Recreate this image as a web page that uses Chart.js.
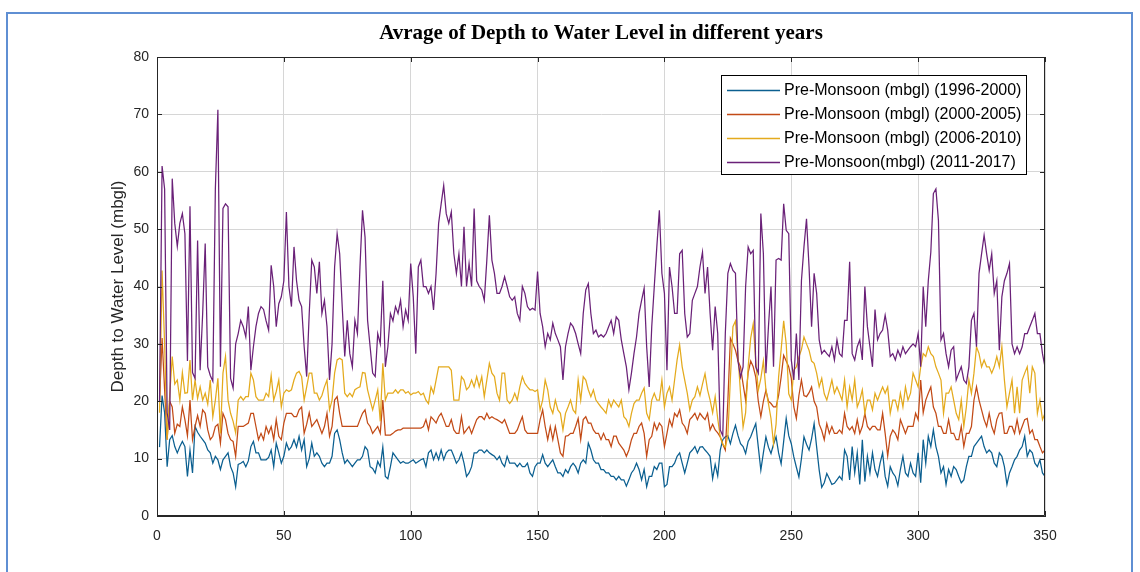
<!DOCTYPE html>
<html>
<head>
<meta charset="utf-8">
<title>Avrage of Depth to Water Level in different years</title>
<script src="https://cdn.jsdelivr.net/npm/chart.js@4.4.1/dist/chart.umd.min.js"></script>
<style>
    html, body { margin: 0; padding: 0; background: #fff; overflow: hidden; }
    #frame { position: absolute; left: 6px; top: 12px; width: 1127px; height: 600px; border: 2px solid #5f8fd3; box-sizing: border-box; }
    #wrap { position: absolute; left: 0; top: 0; width: 1140px; height: 572px; }
</style>
</head>
<body>
<div id="frame"></div>
<div id="wrap"><canvas id="depth-chart" width="1140" height="572"></canvas></div>
<script>
// Axis ticks
const xTicks = [0, 50, 100, 150, 200, 250, 300, 350];
const yTicks = [0, 10, 20, 30, 40, 50, 60, 70, 80];

// Legend labels
const seriesLabels = [
    'Pre-Monsoon (mbgl) (1996-2000)',
    'Pre-Monsoon (mbgl) (2000-2005)',
    'Pre-Monsoon (mbgl) (2006-2010)',
    'Pre-Monsoon(mbgl) (2011-2017)'
];

// Depth to water level, one value per well (1..350)
const pre1996 = [
    12, 21, 18, 8.6, 13.3, 14, 12.1, 11, 12.1, 13,
    12.1, 6.9, 11.5, 7.5, 15.6, 14.6, 13.9, 13.3, 12.7, 11.5,
    11, 9.2, 10.4, 9.8, 8.1, 9.8, 10.4, 11, 8.6, 7.5,
    5.1, 9, 9.2, 9.5, 8.6, 9.6, 12.1, 13, 11, 11,
    9.8, 9.8, 9.8, 10.2, 11.5, 8.6, 12.7, 11, 9.2, 10.4,
    12.7, 11.5, 12.1, 13.3, 12, 13.9, 11.5, 13.3, 8.6, 10,
    12.7, 10.4, 11, 10.4, 9.2, 8.6, 9.2, 9.2, 10.4, 14.4,
    15, 13.3, 11, 9.2, 9.8, 9.2, 8.6, 9.2, 9.8, 9.8,
    10.4, 12.1, 11.5, 8.6, 8.3, 7.5, 9.5, 8.6, 12, 6.9,
    6.5, 8.6, 11, 10.4, 9.8, 9.2, 9.5, 9.2, 9.2, 9.5,
    9.8, 9.2, 9.5, 9.8, 10, 8.6, 11, 11.5, 9.8, 11,
    9.8, 11.5, 9.8, 11, 11.5, 11.5, 10.4, 9.2, 9.8, 11,
    9.2, 6.9, 7.5, 8.6, 11, 11, 11.5, 11.5, 11, 11.5,
    11, 10.7, 10.4, 9.8, 10.4, 9.2, 8.6, 10.4, 9.2, 9.2,
    9.2, 8.6, 9.2, 8.6, 8.6, 9.2, 7.5, 6.9, 8.6, 9.2,
    9.2, 10.7, 9.2, 8.6, 9.2, 9.8, 8.6, 7.5, 7.5, 6.9,
    8.1, 7.5, 8.6, 9.2, 8.6, 7.5, 9.2, 9.8, 9.2, 12.7,
    11.5, 9.8, 9.2, 9.2, 8.1, 8.1, 7.5, 7.5, 6.9, 6.9,
    6.3, 6.9, 6.3, 6.3, 5.2, 6.3, 7.5, 8.1, 9.2, 8.1,
    6.3, 8.1, 5.1, 6.9, 6.9, 8.6, 8.1, 9.2, 9.2, 5.1,
    5.5, 8.6, 8.6, 9.2, 10.4, 11, 9.2, 7.5, 9.2, 11,
    11.5, 12.1, 11, 12, 12.1, 11.5, 11, 10.4, 6.5, 9,
    7, 11.5, 13.3, 13.8, 14, 12.6, 14.4, 15.8, 14, 12.6,
    12.1, 10.9, 13, 13.8, 15, 16.1, 12, 8, 11, 13.8,
    12, 10.9, 12.5, 13.8, 11, 9.1, 13, 17, 14, 12.6,
    10.3, 8.5, 6.8, 10, 13.8, 12.5, 11.5, 13.5, 16.1, 12,
    8, 5, 5.8, 7.4, 6.5, 5.5, 5.7, 6.3, 6.9, 6.3,
    11.5, 10.4, 6.3, 12.1, 7.5, 11, 5.5, 13.3, 6, 10.4,
    7.5, 11, 8.1, 6.9, 9.2, 11, 6.9, 5.2, 8.6, 7.5,
    6.9, 5.3, 8.1, 10.4, 7.5, 6.9, 9.2, 7.5, 6.9, 11,
    5.8, 13.3, 9.2, 13.9, 12.1, 15, 12.1, 10.4, 7.5, 8.6,
    5.5, 8.1, 6.9, 8.6, 8.1, 6.9, 5.8, 6.3, 8.6, 10.4,
    10.4, 12.1, 12.7, 13.3, 13.9, 12.1, 11, 11.5, 11, 9.2,
    8.6, 11, 10.4, 8.6, 5.5, 7.5, 8.6, 9.8, 10.4, 11.5,
    12.1, 13.9, 10.4, 11.5, 11, 9.2, 8.6, 9.8, 7.5, 6.9
];

const pre2000 = [
    20, 31, 22, 13.3, 20, 19, 14.4, 16, 15.6, 19,
    16.8, 14, 20.2, 13.3, 15.6, 17.5, 15.6, 18.5, 17.9, 15,
    13.3, 13.9, 15.6, 16, 12.7, 17.9, 16.8, 14.4, 13.3, 13,
    10.4, 15.6, 15.6, 15.6, 15.9, 16.2, 17.9, 17.9, 15.6, 13.3,
    14.4, 13.3, 15.6, 14.4, 15.6, 13.3, 16.8, 13.9, 13.3, 16.2,
    17.9, 17.9, 17.9, 17.3, 17.3, 18.5, 19, 14.4, 16, 18,
    15.6, 16.2, 16.8, 15.6, 14.4, 15.6, 17.9, 13.9, 15.6, 20.2,
    20.8, 17.9, 15.6, 15.6, 15.6, 15.6, 15.6, 15.6, 15.6, 16.8,
    17.9, 18.5, 16.2, 15.6, 14.4, 15, 15.6, 14.4, 20.2, 14.1,
    14.1, 14.1, 14.4, 14.8, 15, 15, 15.3, 15.3, 15.3, 15.3,
    15.3, 15.3, 15.3, 15.3, 15.6, 16.8, 15, 17.3, 16.8, 16.2,
    17.3, 17.9, 16.8, 15.6, 15.6, 16.8, 15, 14.4, 14.4, 17.3,
    14.4, 15, 15.6, 14.4, 15.6, 16.8, 17.3, 17.3, 16.8, 17.9,
    17, 17.3, 17, 16.8, 16.5, 16.2, 16.8, 15.6, 14.4, 14.4,
    14.4, 15, 16.2, 17.3, 15, 14.4, 14.4, 14.4, 14.4, 14.4,
    16.8, 18.5, 15.6, 13.3, 15.6, 13.3, 15.6, 13.3, 11, 10.4,
    13.9, 14, 14.4, 14.4, 15.6, 17, 13.3, 16.8, 17.3, 16.2,
    16.2, 15, 14.4, 14.4, 13.3, 14.4, 13.3, 13.3, 12.1, 13.9,
    13.9, 12.7, 12.1, 11.5, 10.4, 11.5, 13.3, 14.4, 14.4, 15.6,
    16.2, 14.4, 10.4, 13.3, 13.9, 16.2, 15, 16.2, 15.6, 12.1,
    14.4, 16.8, 15.6, 17.9, 17.3, 18.5, 16.2, 15.6, 14.4, 16.8,
    17.3, 17.9, 16.8, 17.9, 17.3, 16.8, 17.9, 15, 16, 15,
    14.5, 13.8, 12.5, 11.5, 20, 31, 30, 28.9, 27, 26,
    23, 20.2, 25, 27, 26, 24.2, 20, 17.3, 20, 21.9,
    20, 19.6, 19, 19, 21, 24.2, 28, 27, 26, 24,
    19, 17, 21, 23.7, 21, 20.8, 21.5, 22.5, 20, 19,
    16, 14.9, 13.3, 16.1, 14.4, 15.6, 14.4, 14.4, 15, 14.4,
    17.9, 15.6, 15, 15.6, 14.4, 16.8, 14.4, 15.6, 17.9, 15.6,
    15, 15.6, 15.6, 15, 15, 17.9, 14.4, 10.5, 13.9, 15,
    14.4, 13.3, 16.8, 15.6, 14.4, 15.6, 15.6, 15.6, 17.9, 16.8,
    23.7, 18, 20.2, 21.4, 22.5, 19, 17.9, 15.6, 15.6, 14.4,
    14.4, 16.8, 14.4, 14.4, 13.3, 13.3, 15.6, 12.1, 14.4, 14.4,
    15.6, 20.2, 22.5, 20.2, 18.5, 16.8, 15.6, 17.9, 15.6, 14.4,
    16.8, 17.9, 18, 14.4, 14.4, 15.6, 15.6, 14.4, 16.8, 14.4,
    15.6, 16.8, 17, 14.4, 15, 13.3, 13.3, 12.1, 11, 11.5
];

const pre2006 = [
    18, 42.8, 30, 13.3, 21, 27.8, 23, 23.7, 20.2, 25,
    21.4, 21.5, 27.2, 20.2, 23.7, 20.5, 22.5, 20.2, 21.4, 19.5,
    23.7, 17.3, 20.2, 24, 14.4, 24.9, 27.8, 20.2, 17.9, 16.5,
    14.5, 20.2, 20.8, 20.2, 20.8, 20.8, 24.9, 23.7, 20.8, 20.2,
    20.2, 20.2, 21.4, 20.8, 24.5, 20.2, 21.7, 23.7, 19, 21.4,
    22, 21.7, 22, 23.7, 24.9, 25.2, 24.3, 20.2, 22.5, 24.9,
    24.9, 21.4, 21.4, 20.2, 21, 22.5, 23.7, 18.5, 20.2, 24.9,
    27.2, 27.5, 27.2, 21.4, 20.8, 21.4, 20.8, 22, 22.3, 22.5,
    25, 24.9, 22, 20.2, 18.5, 20.2, 22, 16.5, 26.6, 20.2,
    21.4, 21.4, 21.4, 22, 21.4, 22, 22, 21.4, 21.7, 21.1,
    21.4, 21.4, 21.7, 21.1, 21.4, 20.2, 19.6, 22.5, 21.4, 23.7,
    26, 26, 26, 26, 26, 25.4, 20.2, 20.2, 20.2, 24.3,
    23.7, 22, 22.5, 23.7, 22.5, 24.3, 22.5, 24.3, 20.8, 23.7,
    26.6, 24.9, 24.3, 21.4, 20.2, 24.9, 24.9, 20.2, 19.6, 20.2,
    21.4, 20.2, 22.5, 24.3, 23.1, 22.5, 22, 22, 21.7, 22,
    18.5, 20.2, 23.7, 22, 19, 17.9, 20.2, 18.5, 17.9, 15,
    17.9, 19, 20.2, 18.5, 17.9, 23.7, 20.2, 24.3, 23.7, 22,
    20.8, 22, 20.2, 19.6, 19, 18.5, 17.9, 20.2, 19, 20.2,
    19.6, 19, 20.2, 17.3, 16.8, 15.6, 17.9, 19.6, 20.2, 20.2,
    21.4, 22.3, 17.9, 16.8, 20.2, 21.4, 20.2, 20.2, 23.7, 19,
    21.4, 22.5, 20.2, 23.7, 27.2, 29.8, 26, 23.7, 21.4, 18.5,
    20.2, 20.8, 22.5, 21, 23, 24.8, 22, 20.2, 18, 20.8,
    17, 13.8, 12.5, 12, 14, 24, 33, 34, 28, 21.3,
    15.5, 18, 26, 31, 33.5, 27, 21.9, 24, 27, 22,
    19.6, 17, 12.6, 16, 24.2, 29, 34, 30, 21.3, 20.2,
    25.4, 26, 27.7, 29, 31.2, 30, 28.9, 27, 26.6, 24.9,
    22.5, 24, 21.3, 20.2, 21.9, 23.7, 21.4, 22.5, 21.4, 20.2,
    23.7, 19, 22.5, 20.2, 23.7, 19, 20.2, 22, 17.9, 20.2,
    20.2, 18.5, 21.4, 20.2, 21.4, 22.5, 21.4, 22.5, 17.9, 20.2,
    20.2, 18.5, 21.4, 19, 22.5, 20.2, 21.4, 24.9, 23.7, 22.5,
    26, 28.3, 27.8, 29.5, 28.3, 27.8, 26, 24.9, 23.7, 17.9,
    21.4, 21.4, 22.5, 20.2, 17.9, 16.8, 20.2, 15.6, 19, 23.7,
    21.4, 24.9, 29.5, 28.3, 26, 27.2, 26, 26, 24.9, 26,
    27.8, 26, 29.5, 23.7, 19, 21.4, 23.7, 17.9, 22.5, 17.9,
    23.7, 24.9, 26, 21.4, 26, 24.9, 17.9, 20.2, 16.8, 17.9
];

const pre2011 = [
    20, 61, 57, 18, 15, 58.8, 51, 47, 51, 52.7,
    49.2, 27, 54, 25, 24, 48, 25.4, 35.3, 47.5, 26,
    24.5, 23.5, 57, 70.8, 26, 53.6, 54.4, 53.9, 24, 22.3,
    30, 31.8, 34.1, 33, 31.2, 36.5, 25.4, 29.5, 33, 35.3,
    36.5, 36, 34, 32.4, 43.7, 40, 33, 37, 38.2, 41,
    53, 40, 36.5, 46.9, 41, 37.6, 36.5, 29.5, 24.3, 35.3,
    44.6, 43.4, 38.8, 44.3, 35.3, 37.6, 33, 23.7, 30, 43.4,
    49.2, 45.7, 36.5, 27.8, 34.1, 28.3, 26, 34.1, 31.8, 43.4,
    53.3, 48.6, 34.1, 29.5, 24.9, 24.3, 31.8, 30, 41, 26,
    29.5, 35.3, 34, 36.5, 35.3, 37.6, 33, 35.9, 34.1, 44,
    38.2, 28.3, 43.4, 44.6, 40, 40, 38.8, 40, 35.9, 42.3,
    51, 54.4, 57.6, 52.7, 51, 53, 45.7, 42.3, 45.7, 40,
    50.4, 40, 44, 40, 53.6, 41, 40, 39.4, 37.6, 44.6,
    52.4, 44.6, 42.3, 38.8, 38.8, 40, 41.7, 40, 38.2, 37.6,
    38.2, 35.3, 34.1, 40, 38.8, 36.5, 35.9, 36.2, 35.9, 42.6,
    35.3, 33, 29.5, 31.8, 30.7, 33.6, 31.8, 30.7, 29.5, 23.7,
    29.5, 31.8, 33.6, 33, 31.8, 30, 28.3, 35.3, 39.4, 40.5,
    35.3, 31.8, 32.4, 31.2, 31.6, 31.2, 31.8, 33, 34.1, 31.8,
    34.7, 34.1, 30.7, 28.3, 26, 22, 24.9, 28.3, 31.2, 35.3,
    37.6, 39.7, 29.5, 22.5, 33, 40, 46.9, 53.3, 42.3, 38.8,
    25.4, 43.4, 40, 35.3, 35.3, 45.7, 46.3, 35.3, 31.2, 31.8,
    37.6, 38.8, 40, 43.4, 46, 38.8, 43.4, 35.3, 28.9, 36.5,
    31.8, 15, 14, 31.8, 42.3, 44, 42.8, 42.3, 27, 24.2,
    26, 40, 46.9, 45.7, 46.3, 26, 24.9, 52.7, 45.7, 24.9,
    33, 40, 26, 44.6, 44.9, 44.6, 54.4, 49.8, 49.2, 27.2,
    23.7, 31.8, 23.7, 41, 46.9, 51.8, 43.4, 33, 42.3, 38.8,
    30.7, 28.3, 28.9, 28.3, 27.8, 29.5, 27.2, 30.7, 28.3, 27.8,
    34.1, 34.1, 44.3, 28.3, 27.2, 29.5, 30.7, 27.2, 40, 33,
    29.5, 26, 36, 30.7, 31.8, 32.4, 35, 32.4, 27.8, 28.3,
    27.2, 28.9, 27.8, 29.5, 28.3, 28.9, 29.5, 30, 29.5, 31.8,
    26, 40, 33, 41, 46, 56.2, 57, 51.5, 30.7, 31.8,
    28.3, 26, 28.9, 29.5, 23.7, 24.9, 26, 23.7, 23.1, 26,
    34.1, 35.3, 29.5, 42.3, 45.7, 48.9, 45.7, 42.8, 45.7, 38.8,
    41, 28.9, 38.2, 41, 42.3, 44, 30, 28.3, 29.5, 28.3,
    29.5, 31.8, 31.8, 33, 34.1, 35.3, 31.8, 31.8, 28.3, 26
];

// Line colours (MATLAB default order)
const seriesColors = ['#0b5f90', '#c24a16', '#e4aa1d', '#6a2178'];

const axisColor = '#262626';
const sansFont = "'Liberation Sans', Arial, sans-serif";

function toPoints(values) {
    return values.map((v, i) => ({ x: i + 1, y: v }));
}

// Draws the MATLAB style box, inner ticks, title, axis label and legend
const matlabAxes = {
    id: 'matlabAxes',
    afterDraw(chart) {
        const ctx = chart.ctx;
        const area = chart.chartArea;
        const xs = chart.scales.x;
        const ys = chart.scales.y;

        ctx.save();
        ctx.strokeStyle = axisColor;
        ctx.lineWidth = 1;
        ctx.beginPath();
        ctx.rect(area.left + 0.5, area.top + 0.5, area.right - area.left - 1, area.bottom - area.top - 1);
        ctx.stroke();

        // inward tick marks on all four sides
        ctx.beginPath();
        xTicks.forEach(t => {
            const px = Math.round(xs.getPixelForValue(t)) + 0.5;
            ctx.moveTo(px, area.bottom);
            ctx.lineTo(px, area.bottom - 5);
            ctx.moveTo(px, area.top);
            ctx.lineTo(px, area.top + 5);
        });
        yTicks.forEach(t => {
            const py = Math.round(ys.getPixelForValue(t)) + 0.5;
            ctx.moveTo(area.left, py);
            ctx.lineTo(area.left + 5, py);
            ctx.moveTo(area.right, py);
            ctx.lineTo(area.right - 5, py);
        });
        ctx.stroke();

        // title
        ctx.fillStyle = '#000';
        ctx.font = "bold 21px 'Liberation Serif', 'Times New Roman', serif";
        ctx.textAlign = 'center';
        ctx.textBaseline = 'alphabetic';
        ctx.fillText('Avrage of Depth to Water Level in different years', (area.left + area.right) / 2, 39);

        // y axis label
        ctx.save();
        ctx.translate(118, (area.top + area.bottom) / 2);
        ctx.rotate(-Math.PI / 2);
        ctx.font = '17px ' + sansFont;
        ctx.fillStyle = axisColor;
        ctx.textBaseline = 'middle';
        ctx.fillText('Depth to Water Level (mbgl)', 0, 0);
        ctx.restore();

        // legend box
        const box = { left: 721, top: 75, right: 1027, bottom: 175 };
        ctx.fillStyle = '#fff';
        ctx.fillRect(box.left, box.top, box.right - box.left, box.bottom - box.top);
        ctx.strokeStyle = '#000';
        ctx.strokeRect(box.left + 0.5, box.top + 0.5, box.right - box.left - 1, box.bottom - box.top - 1);
        ctx.font = '16px ' + sansFont;
        ctx.textAlign = 'left';
        ctx.textBaseline = 'middle';
        chart.data.datasets.forEach((ds, i) => {
            const y = 90 + i * 24;
            ctx.strokeStyle = ds.borderColor;
            ctx.lineWidth = 1.3;
            ctx.beginPath();
            ctx.moveTo(727, y + 0.5);
            ctx.lineTo(780, y + 0.5);
            ctx.stroke();
            ctx.fillStyle = '#000';
            ctx.fillText(ds.label, 784, y + 1);
        });
        ctx.restore();
    }
};

const chartCanvas = document.getElementById('depth-chart');
const allSeries = [pre1996, pre2000, pre2006, pre2011];

const depthChart = new Chart(chartCanvas.getContext('2d'), {
    type: 'line',
    data: {
        datasets: allSeries.map((values, i) => ({
            label: seriesLabels[i],
            data: toPoints(values),
            borderColor: seriesColors[i],
            backgroundColor: seriesColors[i],
            borderWidth: 1.25,
            pointRadius: 0,
            tension: 0,
            fill: false,
            order: 4 - i
        }))
    },
    options: {
        responsive: false,
        animation: false,
        layout: { padding: { top: 57, right: 95, left: 0, bottom: 0 } },
        plugins: {
            legend: { display: false },
            title: { display: false },
            tooltip: { enabled: false }
        },
        scales: {
            x: {
                type: 'linear',
                min: 0,
                max: 350,
                afterBuildTicks: scale => { scale.ticks = xTicks.map(v => ({ value: v })); },
                afterFit: scale => { scale.height = 56; },
                grid: { color: '#d6d6d6', lineWidth: 1, drawTicks: false },
                border: { display: true, color: axisColor },
                ticks: {
                    padding: 12,
                    color: axisColor,
                    font: { family: sansFont, size: 14 },
                    maxRotation: 0
                }
            },
            y: {
                type: 'linear',
                min: 0,
                max: 80,
                afterBuildTicks: scale => { scale.ticks = yTicks.map(v => ({ value: v })); },
                afterFit: scale => { scale.width = 157; },
                grid: { color: '#d6d6d6', lineWidth: 1, drawTicks: false },
                border: { display: true, color: axisColor },
                ticks: {
                    padding: 8,
                    color: axisColor,
                    font: { family: sansFont, size: 14 }
                }
            }
        }
    },
    plugins: [matlabAxes]
});
</script>
</body>
</html>
